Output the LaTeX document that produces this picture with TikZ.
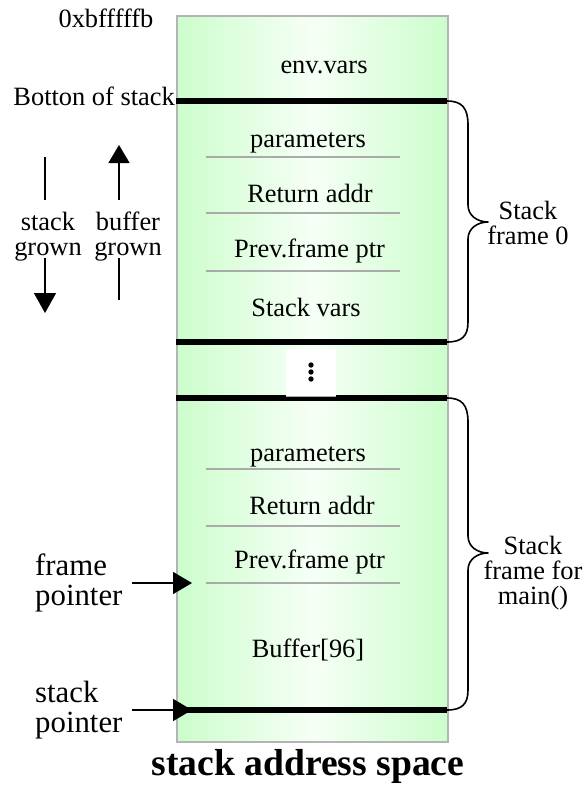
\documentclass[tikz,border=0pt]{standalone}
\usepackage{fontspec}
\setmainfont{Liberation Serif}
\usetikzlibrary{arrows.meta}

\definecolor{memgreen}{HTML}{CCFDCC}
\definecolor{memwhite}{HTML}{F6FFF6}
\definecolor{rim}{HTML}{B4B4B4}
\definecolor{rule}{HTML}{AAAAAA}

\begin{document}
\begin{tikzpicture}[x=1pt,y=-1pt,
  lbl/.style={font=\fontsize{26.4}{25}\selectfont, inner sep=0pt, anchor=base},
  biglbl/.style={font=\fontsize{30.8}{30}\selectfont, inner sep=0pt, anchor=base west, align=left},
  ttl/.style={font=\fontsize{37.6}{37.6}\selectfont\bfseries, inner sep=0pt, anchor=base},
  memory/.style={draw=rim, line width=1.5pt, left color=memgreen, right color=memgreen,
    middle color=memwhite, shading angle=90, minimum width=271pt, minimum height=726pt,
    inner sep=0pt, anchor=north west},
  bar/.style={line width=6pt, line cap=butt},
  sepline/.style={draw=rule, line width=1.5pt},
  ptr/.style={line width=1.5pt, -{Triangle[length=19pt,width=22pt]}},
  growline/.style={line width=1.5pt},
  brace/.style={line width=1.6pt, line join=round}
]
\useasboundingbox (0,0) rectangle (584,788);

% the stack region
\node[memory] (mem) at (176,15) {};

% frame boundaries
\draw[bar] (176,101) -- (447,101);
\draw[bar] (176,342) -- (447,342);
\draw[bar] (176,398) -- (447,398);
\draw[bar] (176,710) -- (447,710);

% slot separators inside frames
\foreach \yy in {157,213,271,469,526,583}
  \draw[sepline] (206,\yy) -- (400,\yy);

% gap between frames
\fill[white] (286,350) rectangle (336,396);
\draw[rule, line width=1pt] (286,396) -- (336,396);
\foreach \yy in {365,372,379}
  \fill (311,\yy) circle (2.7pt);

% slot labels
\node[lbl] (env) at (324,73) {env.vars};
\node[lbl] (par0) at (308,147) {parameters};
\node[lbl] (ret0) at (310,202) {Return addr};
\node[lbl] (prev0) at (309.5,257) {Prev.frame ptr};
\node[lbl] (vars0) at (306,316) {Stack vars};
\node[lbl] (par1) at (308,461) {parameters};
\node[lbl] (ret1) at (312,514) {Return addr};
\node[lbl] (prev1) at (309.5,568) {Prev.frame ptr};
\node[lbl] (buf) at (308,657) {Buffer[96]};

% top annotations
\node[lbl] (addr) at (106,27) {0xbfffffb};
\node[lbl, anchor=base east] (bottom) at (175,105) {Botton of stack};

% growth directions (base anchor sits on the last line)
\node[lbl, align=center] (sg) at (48,255) {stack\\grown};
\node[lbl, align=center] (bg) at (128,255) {buffer\\grown};
\coordinate (sgtop) at (45,157);
\coordinate (sgmid) at (45,200);
\coordinate (sglow) at (45,258);
\coordinate (sgend) at (45,313);
\draw[growline] (sgtop) -- (sgmid);
\draw[ptr, -{Triangle[length=20pt,width=22pt]}] (sglow) -- (sgend);
\coordinate (bgbot) at (119,300);
\coordinate (bgmid) at (119,258);
\coordinate (bgup) at (119,200);
\coordinate (bgend) at (119,145);
\draw[growline] (bgbot) -- (bgmid);
\draw[ptr, -{Triangle[length=18pt,width=21pt]}] (bgup) -- (bgend);

% frame and stack pointers
\node[biglbl] (fp) at (35,605) {frame\\pointer};
\node[biglbl] (sp) at (35,732) {stack\\pointer};
\coordinate (fptail) at (132,583);
\coordinate (sptail) at (132,710);
\draw[ptr] (fptail) -- ([xshift=16pt]fptail -| mem.west);
\draw[ptr] (sptail) -- ([xshift=16pt]sptail -| mem.west);

% braces marking the frames
\draw[brace] (447,101) .. controls (462,101) and (468,108) .. (468,125)
  -- (468,205) .. controls (468,216) and (478,222) .. (488,222)
  .. controls (478,222) and (468,228) .. (468,239)
  -- (468,322) .. controls (468,336) and (462,342) .. (447,342);
\node[lbl, align=center] (f0) at (528,244) {Stack\\frame 0};

\draw[brace] (447,398) .. controls (462,398) and (468,405) .. (468,422)
  -- (468,536) .. controls (468,547) and (478,553) .. (488,553)
  .. controls (478,553) and (468,559) .. (468,570)
  -- (468,690) .. controls (468,704) and (462,710) .. (447,710);
\node[lbl, align=center] (fm) at (533,604) {Stack\\frame for\\main()};

% caption
\node[ttl] (cap) at (308,775) {stack address space};
\end{tikzpicture}
\end{document}
